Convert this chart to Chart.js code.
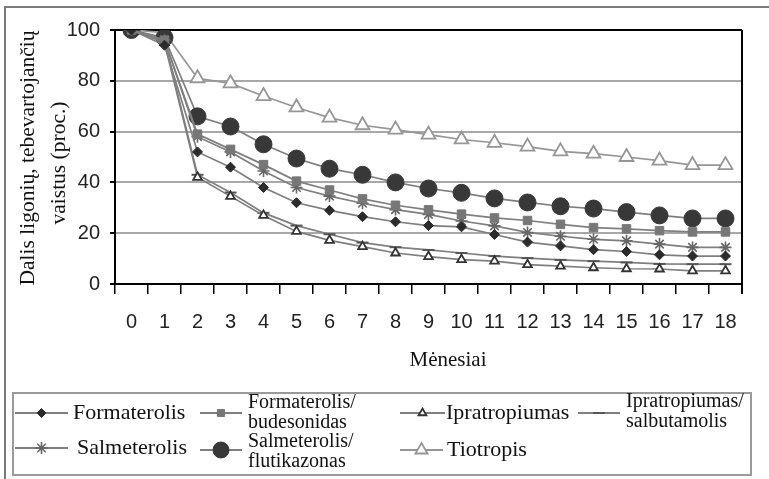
<!DOCTYPE html>
<html lang="lt">
<head>
<meta charset="utf-8">
<title>Dalis ligonių, tebevartojančių vaistus</title>
<script src="https://cdn.jsdelivr.net/npm/chart.js@4/dist/chart.umd.min.js"></script>
<style>
  html, body { margin: 0; padding: 0; background: #fff; }
  #wrap { width: 769px; height: 479px; }
</style>
</head>
<body>
<div id="wrap"><canvas id="grafikas" width="769" height="479"></canvas></div>
<script>
// Duomenys
const menesiai = ['0','1','2','3','4','5','6','7','8','9','10','11','12','13','14','15','16','17','18'];
const formaterolis = [100, 94, 52, 46, 38, 32, 29, 26.5, 24.5, 23, 22.5, 19.5, 16.5, 15, 13.5, 12.8, 11.5, 11, 11];
const formBudesonidas = [100, 96, 59, 53, 47, 40.5, 37, 33.5, 31, 29.2, 27.5, 26, 25, 23.5, 22.2, 21.7, 21, 20.5, 20.5];
const ipratropiumas = [100, 95, 42, 34.5, 27, 20.7, 17.2, 14.7, 12.2, 10.8, 9.6, 9, 7.6, 7, 6.4, 6, 5.9, 5.2, 5.2];
const ipraSalbutamolis = [100, 96, 43, 36, 28, 23, 19.6, 16.3, 14.5, 13.4, 12.2, 11, 10.2, 9.5, 9, 8.5, 7.9, 7.8, 7.8];
const salmeterolis = [100, 96, 58, 52, 44.5, 38, 34.6, 31.8, 29.3, 27.4, 24.8, 22.9, 20.3, 18.8, 17.6, 17, 15.7, 14.4, 14.4];
const salmFlutikazonas = [100, 97, 66, 62, 55, 49.4, 45.4, 43, 40, 37.6, 35.9, 33.7, 32.1, 30.6, 29.7, 28.3, 27, 25.8, 25.8];
const tiotropis = [100, 99, 81, 79, 74, 69.5, 65.5, 62.5, 60.8, 58.8, 56.9, 55.6, 54.1, 52.2, 51.3, 50, 48.6, 46.8, 46.8];
const yTikai = [0, 20, 40, 60, 80, 100];

const SERIF = '"Liberation Serif", "DejaVu Serif", serif';
const SANS = '"Liberation Sans", Arial, sans-serif';
const LINIJA = '#7f7f7f';

const serijos = [
  { label: 'Formaterolis', data: formaterolis, pointStyle: 'rectRot', pointRadius: 5, pointBackgroundColor: '#2b2b2b', pointBorderColor: '#2b2b2b', pointBorderWidth: 1, borderColor: LINIJA },
  { label: 'Formaterolis/budesonidas', data: formBudesonidas, pointStyle: 'rect', pointRadius: 6, pointBackgroundColor: '#777', pointBorderColor: '#777', pointBorderWidth: 1, borderColor: LINIJA },
  { label: 'Ipratropiumas', data: ipratropiumas, pointStyle: 'triangle', pointRadius: 5, pointBackgroundColor: '#fff', pointBorderColor: '#333', pointBorderWidth: 1.8, borderColor: LINIJA },
  { label: 'Ipratropiumas/salbutamolis', data: ipraSalbutamolis, pointStyle: 'line', pointRadius: 6, pointBackgroundColor: '#555', pointBorderColor: '#555', pointBorderWidth: 2, borderColor: LINIJA },
  { label: 'Salmeterolis', data: salmeterolis, pointStyle: 'star', pointRadius: 6, pointBackgroundColor: '#666', pointBorderColor: '#666', pointBorderWidth: 1.6, borderColor: LINIJA },
  { label: 'Salmeterolis/flutikazonas', data: salmFlutikazonas, pointStyle: 'circle', pointRadius: 8.5, pointBackgroundColor: '#383838', pointBorderColor: '#383838', pointBorderWidth: 1, borderColor: LINIJA },
  { label: 'Tiotropis', data: tiotropis, pointStyle: 'triangle', pointRadius: 8, pointBackgroundColor: '#fff', pointBorderColor: '#969696', pointBorderWidth: 1.8, borderColor: '#969696' }
];

// legendos išdėstymas (eilė, kaip serijos)
const legendosTekstai = [
  ['Formaterolis'], ['Formaterolis/', 'budesonidas'], ['Ipratropiumas'], ['Ipratropiumas/', 'salbutamolis'],
  ['Salmeterolis'], ['Salmeterolis/', 'flutikazonas'], ['Tiotropis']
];
const legendosVietos = [
  { x0: 15, x1: 68, tx: 73, y: 413 },
  { x0: 200, x1: 242, tx: 248, y: 413 },
  { x0: 400, x1: 445, tx: 446, y: 413 },
  { x0: 578, x1: 620, tx: 626, y: 412 },
  { x0: 15, x1: 68, tx: 77, y: 448 },
  { x0: 200, x1: 242, tx: 248, y: 452 },
  { x0: 400, x1: 443, tx: 447, y: 450 }
];

const piesimoPluginas = {
  id: 'piesimas',
  afterDraw(chart) {
    const ctx = chart.ctx;
    const a = chart.chartArea;
    ctx.save();

    // rėmelis aplink paveikslą
    ctx.strokeStyle = '#7a7a7a';
    ctx.lineWidth = 2;
    ctx.beginPath();
    ctx.moveTo(5, 479);
    ctx.lineTo(5, 7);
    ctx.lineTo(769, 7);
    ctx.stroke();

    // dešinysis grafiko kraštas
    ctx.strokeStyle = '#000';
    ctx.lineWidth = 2;
    ctx.beginPath();
    ctx.moveTo(a.right, a.top);
    ctx.lineTo(a.right, a.bottom + 10);
    ctx.stroke();

    // ašių pavadinimai
    ctx.fillStyle = '#111';
    ctx.textAlign = 'center';
    ctx.textBaseline = 'middle';
    ctx.font = '21px ' + SERIF;
    ctx.fillText('Mėnesiai', 448, 360);

    ctx.font = '21.5px ' + SERIF;
    ctx.save();
    ctx.translate(28, 158);
    ctx.rotate(-Math.PI / 2);
    ctx.fillText('Dalis ligonių, tebevartojančių', 0, 0);
    ctx.restore();
    ctx.save();
    ctx.translate(59, 163);
    ctx.rotate(-Math.PI / 2);
    ctx.fillText('vaistus (proc.)', 0, 0);
    ctx.restore();

    // legenda
    ctx.strokeStyle = '#9a9a9a';
    ctx.lineWidth = 2;
    ctx.strokeRect(13, 393, 738, 82);

    serijos.forEach((s, i) => {
      const v = legendosVietos[i];
      const yl = legendosTekstai[i].length > 1 ? (i < 4 ? 413 : 450) : v.y;
      ctx.strokeStyle = s.borderColor;
      ctx.lineWidth = 2;
      ctx.beginPath();
      ctx.moveTo(v.x0, yl);
      ctx.lineTo(v.x1, yl);
      ctx.stroke();
      ctx.fillStyle = s.pointBackgroundColor;
      ctx.strokeStyle = s.pointBorderColor;
      ctx.lineWidth = s.pointBorderWidth;
      let r = s.pointRadius;
      if (s.label === 'Tiotropis') r = 7;
      if (s.label === 'Salmeterolis/flutikazonas') r = 8;
      if (s.label === 'Ipratropiumas') r = 4.5;
      if (s.label === 'Formaterolis/budesonidas') r = 5;
      if (s.label === 'Formaterolis') r = 4.5;
      Chart.helpers.drawPoint(ctx, { pointStyle: s.pointStyle, radius: r, rotation: 0, borderWidth: s.pointBorderWidth }, (v.x0 + v.x1) / 2, yl);

      ctx.fillStyle = '#111';
      ctx.textAlign = 'left';
      ctx.textBaseline = 'middle';
      const eil = legendosTekstai[i];
      if (eil.length === 1) {
        ctx.font = '22px ' + SERIF;
        ctx.fillText(eil[0], v.tx, v.y);
      } else {
        ctx.font = '20px ' + SERIF;
        ctx.fillText(eil[0], v.tx, v.y - 10);
        ctx.fillText(eil[1], v.tx, v.y + 10);
      }
    });
    ctx.restore();
  }
};

const ctx = document.getElementById('grafikas').getContext('2d');
new Chart(ctx, {
  type: 'line',
  data: {
    labels: menesiai,
    datasets: serijos.map(s => Object.assign({ borderWidth: 1.7, fill: false, tension: 0 }, s))
  },
  options: {
    responsive: false,
    animation: false,
    events: [],
    layout: { padding: { top: 30, right: 27, bottom: 135, left: 0 } },
    plugins: { legend: { display: false }, tooltip: { enabled: false } },
    scales: {
      x: {
        offset: true,
        afterFit: (scale) => { scale.height = 60; },
        grid: { offset: true, drawOnChartArea: false, tickLength: 10, tickColor: '#000', lineWidth: 1.5 },
        border: { color: '#000', width: 2 },
        ticks: { color: '#222', font: { family: SANS, size: 20 }, padding: 16, maxRotation: 0, autoSkip: false }
      },
      y: {
        min: 0,
        max: 100,
        afterFit: (scale) => { scale.width = 115; },
        afterBuildTicks: (scale) => { scale.ticks = yTikai.map(v => ({ value: v })); },
        grid: {
          color: (c) => (c.tick && c.tick.value === 100 ? '#000' : '#a8a8a8'),
          lineWidth: 2,
          tickLength: 5,
          tickColor: '#000'
        },
        border: { color: '#000', width: 2 },
        ticks: { color: '#222', font: { family: SANS, size: 20 }, padding: 10 }
      }
    }
  },
  plugins: [piesimoPluginas]
});
</script>
</body>
</html>
